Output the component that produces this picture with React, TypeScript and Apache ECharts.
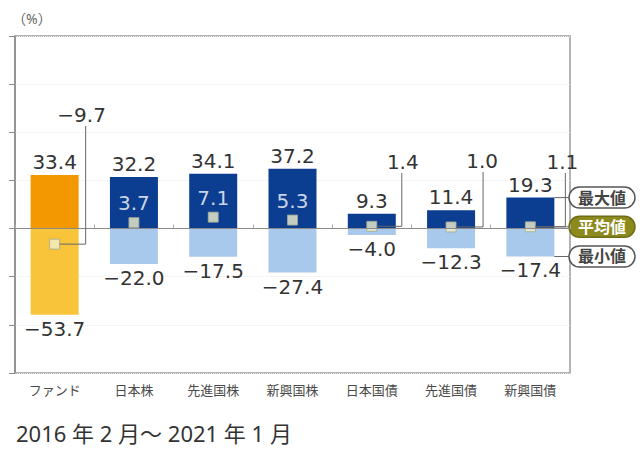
import React, { useEffect, useRef } from "react";
import * as echarts from "echarts";

const categories = ["ファンド", "日本株", "先進国株", "新興国株", "日本国債", "先進国債", "新興国債"];
const maxValues = [33.4, 32.2, 34.1, 37.2, 9.3, 11.4, 19.3];
const minValues = [-53.7, -22.0, -17.5, -27.4, -4.0, -12.3, -17.4];
const avgValues = [-9.7, 3.7, 7.1, 5.3, 1.4, 1.0, 1.1];
const avgLabelInside = [false, true, true, true, false, false, false];
const yMin = -90;
const yMax = 120;
const yInterval = 30;
const legendLabels = ["最大値", "平均値", "最小値"];
const unitLabel = "（%）";
const subtitle = "2016 年 2 月～ 2021 年 1 月";

const fmt = (v: number) => (v < 0 ? "−" : "") + Math.abs(v).toFixed(1);

const NUM_FONT = "DejaVu Sans";
const JP_STACK = "'Noto Sans', 'Noto Sans CJK JP', sans-serif";

export default function App() {
  const ref = useRef<HTMLDivElement>(null);
  useEffect(() => {
    if (!ref.current) return;
    const chart = echarts.init(ref.current, null, { renderer: "svg" });
    const maxColor = "#0b3d91";
    const minColor = "#a9c9ec";
    const fundMax = "#f39800";
    const fundMin = "#f8c43a";
    const option: any = {
      animation: false,
      backgroundColor: "#ffffff",
      grid: {
        left: 15,
        right: 70,
        top: 36,
        bottom: 77,
        show: true,
        borderColor: "#9a9a9a",
        borderWidth: 1.5,
        backgroundColor: "transparent",
      },
      xAxis: [
        {
          type: "category",
          data: categories,
          axisLine: { show: false, onZero: false },
          axisTick: { show: false },
          axisLabel: {
            interval: 0,
            margin: 10,
            fontSize: 13,
            color: "#4a4a4a",
            fontFamily: JP_STACK,
          },
          splitLine: { show: false },
        },
        {
          type: "category",
          data: categories,
          position: "bottom",
          z: 10,
          axisLine: { show: true, onZero: true, lineStyle: { color: "#8a8a8a", width: 1 } },
          axisTick: { show: true, inside: true, length: 4, interval: 0, lineStyle: { color: "#aaa" } },
          axisLabel: { show: false },
          splitLine: { show: false },
        },
      ],
      yAxis: {
        type: "value",
        min: yMin,
        max: yMax,
        interval: yInterval,
        axisLine: { show: true, lineStyle: { color: "#8a8a8a", width: 1.5 } },
        axisTick: { show: true, length: 6, lineStyle: { color: "#8a8a8a" } },
        axisLabel: { show: false },
        splitLine: { show: true, lineStyle: { color: "#ececec", type: "dotted" } },
      },
      series: [
        {
          type: "bar",
          stack: "range",
          barWidth: 48,
          data: maxValues.map((v, i) => ({
            value: v,
            itemStyle: { color: i === 0 ? fundMax : maxColor },
          })),
          label: {
            show: true,
            position: "top",
            distance: 3,
            formatter: (p: any) => fmt(p.value),
            fontSize: 20,
            color: "#333",
            fontFamily: NUM_FONT,
          },
        },
        {
          type: "bar",
          stack: "range",
          barWidth: 48,
          data: minValues.map((v, i) => ({
            value: v,
            itemStyle: { color: i === 0 ? fundMin : minColor },
          })),
          label: {
            show: true,
            position: "bottom",
            distance: 4,
            formatter: (p: any) => fmt(p.value),
            fontSize: 20,
            color: "#333",
            fontFamily: NUM_FONT,
          },
        },
        {
          type: "scatter",
          symbol: "rect",
          symbolSize: 10,
          z: 5,
          itemStyle: { color: "#f1f0cc", borderColor: "#a8a890", borderWidth: 1 },
          data: avgValues.map((v, i) => ({
            value: v,
            label: {
              show: avgLabelInside[i],
              position: "top",
              distance: 4,
              formatter: (p: any) => fmt(p.value),
              fontSize: 20,
              color: "#ffffff",
              fontFamily: NUM_FONT,
            },
          })),
        },
      ],
    };
    chart.setOption(option);

    const px = (i: number, v: number) =>
      chart.convertToPixel({ xAxisIndex: 0, yAxisIndex: 0 }, [i, v]) as number[];

    const graphics: any[] = [];
    graphics.push({
      type: "text",
      x: 12,
      y: 11,
      style: { text: unitLabel, fontSize: 14, fontFamily: JP_STACK, fill: "#666" },
    });
    graphics.push({
      type: "text",
      x: 16,
      y: 422,
      style: { text: subtitle, fontSize: 22, fontFamily: JP_STACK, fill: "#333" },
    });

    const ext = [
      { i: 0, dx: 27, lineDx: 31, labelY: 115 },
      { i: 4, dx: 31, lineDx: 30, labelY: 162 },
      { i: 5, dx: 31, lineDx: 32, labelY: 161 },
      { i: 6, dx: 32, lineDx: 35, labelY: 162 },
    ];
    ext.forEach((e) => {
      const [cx, cy] = px(e.i, avgValues[e.i]);
      const lx = cx + e.lineDx;
      graphics.push({
        type: "polyline",
        z: 20,
        shape: { points: [[cx + 5, cy], [lx, cy], [lx, e.labelY + 11]] },
        style: { stroke: "#666", lineWidth: 1, fill: null },
      });
      graphics.push({
        type: "text",
        z: 20,
        x: cx + e.dx,
        y: e.labelY,
        style: {
          text: fmt(avgValues[e.i]),
          fontSize: 20,
          fontFamily: NUM_FONT,
          fill: "#333",
          align: "center",
          verticalAlign: "middle",
        },
      });
    });

    const last = categories.length - 1;
    const pillX = 569;
    const pillW = 66;
    const pillH = 21;
    const values = [maxValues[last], avgValues[last], minValues[last]];
    const [lastCx] = px(last, 0);
    values.forEach((v, k) => {
      const [, y] = px(last, v);
      const startX = k === 1 ? lastCx + 5 : lastCx + 24;
      graphics.push({
        type: "line",
        z: 18,
        shape: { x1: startX, y1: y, x2: pillX, y2: y },
        style: { stroke: "#666", lineWidth: 1 },
      });
      const isAvg = k === 1;
      graphics.push({
        type: "group",
        x: pillX,
        y: y,
        z: 22,
        children: [
          {
            type: "rect",
            shape: { x: 0, y: -pillH / 2, width: pillW, height: pillH, r: pillH / 2 },
            style: {
              fill: isAvg ? "#8c8a1c" : "#ffffff",
              stroke: isAvg ? "#6f6d16" : "#555",
              lineWidth: 1.5,
            },
          },
          {
            type: "text",
            x: pillW / 2,
            y: 0,
            style: {
              text: legendLabels[k],
              fontSize: 16,
              fontWeight: "bold",
              fontFamily: JP_STACK,
              fill: isAvg ? "#ffffff" : "#444",
              align: "center",
              verticalAlign: "middle",
            },
          },
        ],
      });
    });

    chart.setOption({ graphic: { elements: graphics } });

    return () => chart.dispose();
  }, []);
  return (
    <div
      ref={ref}
      style={{ position: "fixed", left: 0, top: 0, width: 640, height: 450 }}
    />
  );
}
